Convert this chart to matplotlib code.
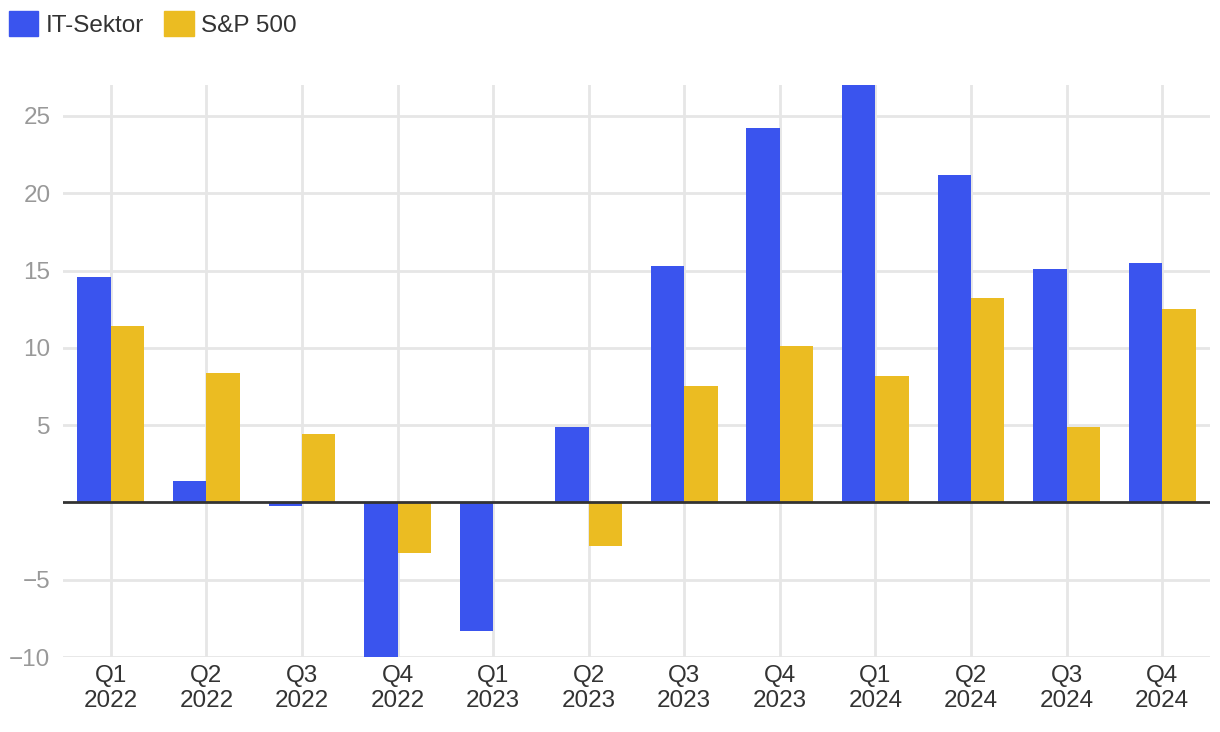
import matplotlib
matplotlib.use("Agg")
import matplotlib.pyplot as plt
import numpy as np
from matplotlib.patches import Patch

categories = ["Q1\n2022", "Q2\n2022", "Q3\n2022", "Q4\n2022",
              "Q1\n2023", "Q2\n2023", "Q3\n2023", "Q4\n2023",
              "Q1\n2024", "Q2\n2024", "Q3\n2024", "Q4\n2024"]
it_sektor = [14.6, 1.4, -0.25, -10.0, -8.3, 4.9, 15.3, 24.2, 27.0, 21.2, 15.1, 15.5]
sp500 = [11.4, 8.4, 4.4, -3.3, 0.0, -2.8, 7.5, 10.1, 8.2, 13.2, 4.9, 12.5]
y_ticks = [-10, -5, 5, 10, 15, 20, 25]
y_tick_labels = ["\u221210", "\u22125", "5", "10", "15", "20", "25"]
series_names = ["IT-Sektor", "S&P 500"]

BLUE = "#3a54ee"
YELLOW = "#ebbc22"
plt.rcParams['font.family'] = ['Liberation Sans', 'DejaVu Sans']
FS = 17.5

fig = plt.figure(figsize=(12.2, 7.32), dpi=100)
ax = fig.add_axes([63/1220, 1-657/732, (1210-63)/1220, (657-85)/732])

x = np.arange(len(categories))
w = 0.35
ax.bar(x - w/2, it_sektor, width=w, color=BLUE, zorder=3)
ax.bar(x + w/2, sp500, width=w, color=YELLOW, zorder=3)

ax.set_xlim(-0.5, len(categories) - 0.5)
ax.set_ylim(-10, 27)
ax.set_xticks(x)
ax.set_xticklabels(categories, fontsize=FS, color="#333333", linespacing=1.15)
ax.set_yticks(y_ticks)
ax.set_yticklabels(y_tick_labels, fontsize=FS, color="#999999")
ax.tick_params(axis='both', length=0)
ax.tick_params(axis='y', pad=9)
ax.tick_params(axis='x', pad=6)

for s in ax.spines.values():
    s.set_visible(False)
ax.grid(True, color="#e6e6e6", linewidth=2, zorder=0)
ax.axhline(0, color="#333333", linewidth=2, zorder=4)

handles = [Patch(color=BLUE, label=series_names[0]), Patch(color=YELLOW, label=series_names[1])]
fig.legend(handles=handles, loc="upper left", bbox_to_anchor=(9/1220, 1-11/732), ncol=2,
           frameon=False, fontsize=FS, handlelength=1.2, handleheight=1.2,
           handletextpad=0.3, columnspacing=0.85, borderaxespad=0, borderpad=0,
           labelcolor="#333333")

fig.savefig("out.png", dpi=100)
